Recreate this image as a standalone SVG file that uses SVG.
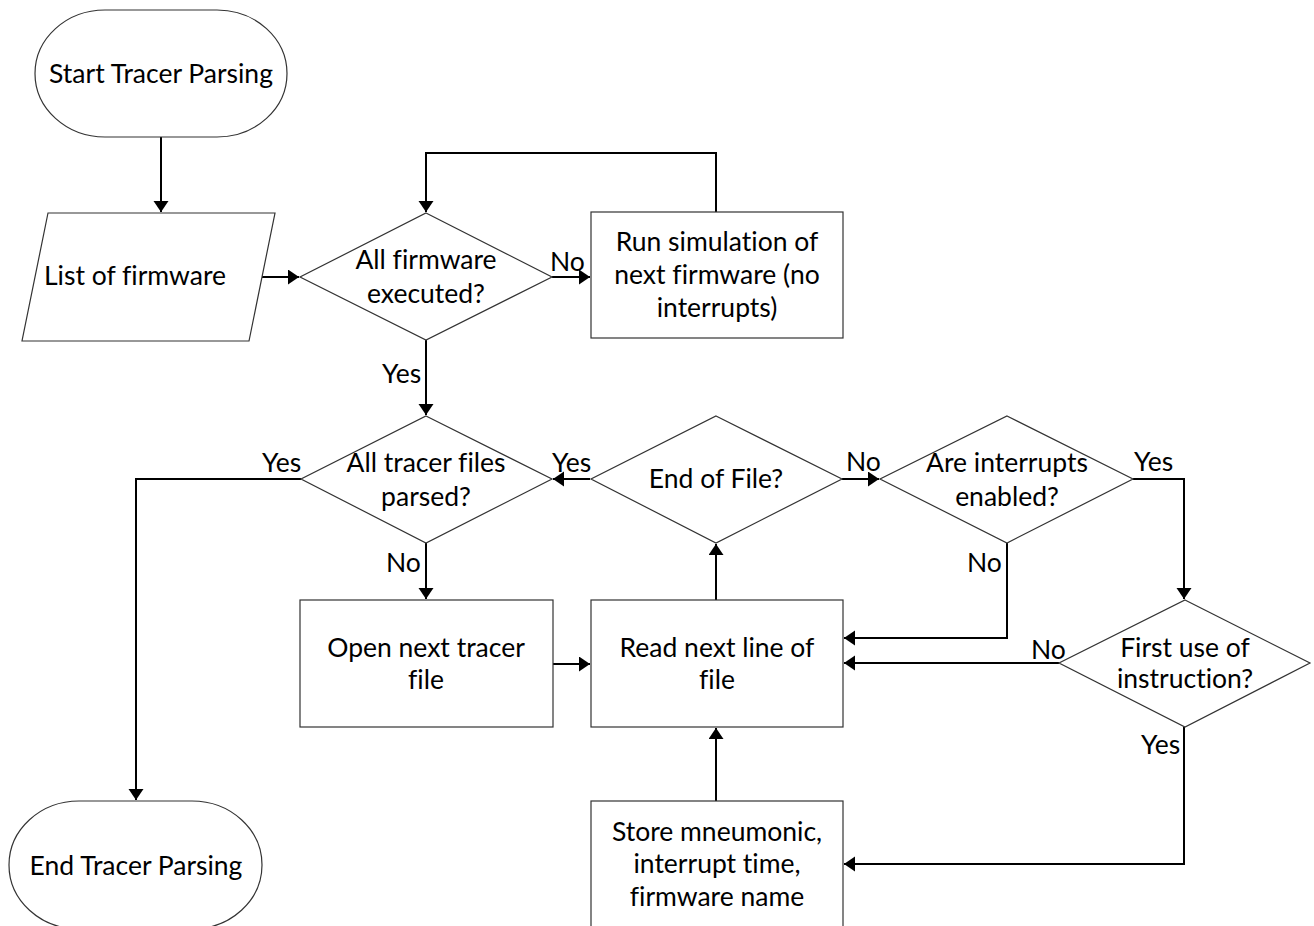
<svg xmlns="http://www.w3.org/2000/svg" width="1314" height="926" viewBox="0 0 1314 926">
<style>
.shape{fill:#fff;stroke:#333;stroke-width:1.2}
.conn{fill:none;stroke:#000;stroke-width:2}
text{font-family:Lato,"Liberation Sans",sans-serif;font-size:26.5px;fill:#000;text-anchor:middle;font-variant-ligatures:none}
.lbl{text-anchor:start}
</style>
<defs>
<marker id="ah" markerUnits="userSpaceOnUse" markerWidth="12" markerHeight="16" refX="11" refY="7.5" orient="auto">
<path d="M0,0 L11,7.5 L0,15 z" fill="#000"/>
</marker>
</defs>
<rect width="1314" height="926" fill="#fff"/>
<g id="connectors">
<path class="conn" d="M161,137 V212" marker-end="url(#ah)"/>
<path class="conn" d="M262,277 H299" marker-end="url(#ah)"/>
<path class="conn" d="M552,277 H590" marker-end="url(#ah)"/>
<path class="conn" d="M716,212 V153 H426 V212" marker-end="url(#ah)"/>
<path class="conn" d="M426,340 V415" marker-end="url(#ah)"/>
<path class="conn" d="M301,479 H136 V800" marker-end="url(#ah)"/>
<path class="conn" d="M426,543 V599" marker-end="url(#ah)"/>
<path class="conn" d="M553,664 H590" marker-end="url(#ah)"/>
<path class="conn" d="M716,600 V544" marker-end="url(#ah)"/>
<path class="conn" d="M590,479 H553" marker-end="url(#ah)"/>
<path class="conn" d="M842,479 H879" marker-end="url(#ah)"/>
<path class="conn" d="M1133,479 H1184 V599" marker-end="url(#ah)"/>
<path class="conn" d="M1007,543 V638 H844" marker-end="url(#ah)"/>
<path class="conn" d="M1059,663 H844" marker-end="url(#ah)"/>
<path class="conn" d="M1184,727 V864 H844" marker-end="url(#ah)"/>
<path class="conn" d="M716,801 V728" marker-end="url(#ah)"/>
</g>
<g id="labels">
<text class="lbl" x="550" y="271">No</text>
<text class="lbl" x="382" y="383">Yes</text>
<text class="lbl" x="262" y="472">Yes</text>
<text class="lbl" x="552" y="472">Yes</text>
<text class="lbl" x="386" y="572">No</text>
<text class="lbl" x="846" y="471">No</text>
<text class="lbl" x="1134" y="471">Yes</text>
<text class="lbl" x="967" y="572">No</text>
<text class="lbl" x="1031" y="659">No</text>
<text class="lbl" x="1141" y="754">Yes</text>
</g>
<g id="start">
<rect class="shape" x="35" y="10" width="252" height="127" rx="70" ry="63.5"/>
<text x="161" y="83">Start Tracer Parsing</text>
</g>
<g id="list">
<polygon class="shape" points="48,213 275,213 249,341 22,341"/>
<text x="135" y="285">List of firmware</text>
</g>
<g id="d1">
<polygon class="shape" points="426,213 552,277 426,340 300,277"/>
<text x="426" y="269">All firmware</text>
<text x="426" y="303">executed?</text>
</g>
<g id="runsim">
<rect class="shape" x="591" y="212" width="252" height="126"/>
<text x="717" y="251">Run simulation of</text>
<text x="717" y="284">next firmware (no</text>
<text x="717" y="317">interrupts)</text>
</g>
<g id="d2">
<polygon class="shape" points="426,416 552,479 426,543 301,479"/>
<text x="426" y="472">All tracer files</text>
<text x="426" y="506">parsed?</text>
</g>
<g id="d3">
<polygon class="shape" points="716,416 842,479 716,543 591,479"/>
<text x="716" y="488">End of File?</text>
</g>
<g id="d4">
<polygon class="shape" points="1007,416 1133,479 1007,543 880,479"/>
<text x="1007" y="472">Are interrupts</text>
<text x="1007" y="506">enabled?</text>
</g>
<g id="d5">
<polygon class="shape" points="1185,600 1310,663 1185,727 1059,663"/>
<text x="1185" y="657">First use of</text>
<text x="1185" y="688">instruction?</text>
</g>
<g id="opennext">
<rect class="shape" x="300" y="600" width="253" height="127"/>
<text x="426" y="657">Open next tracer</text>
<text x="426" y="689">file</text>
</g>
<g id="readnext">
<rect class="shape" x="591" y="600" width="252" height="127"/>
<text x="717" y="657">Read next line of</text>
<text x="717" y="689">file</text>
</g>
<g id="store">
<rect class="shape" x="591" y="801" width="252" height="127"/>
<text x="717" y="841">Store mneumonic,</text>
<text x="717" y="873">interrupt time,</text>
<text x="717" y="906">firmware name</text>
</g>
<g id="end">
<rect class="shape" x="9" y="801" width="253" height="128" rx="70" ry="64"/>
<text x="136" y="875">End Tracer Parsing</text>
</g>
</svg>
